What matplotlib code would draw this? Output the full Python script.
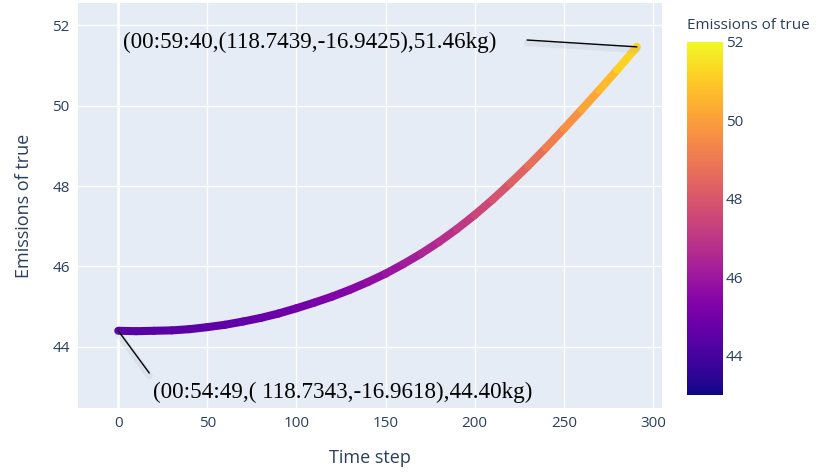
import numpy as np
import matplotlib.pyplot as plt
import matplotlib.patheffects as pe
from matplotlib.collections import LineCollection
from matplotlib.colors import Normalize

# emission readings along the route
time_step = [0, 10, 20, 30, 40, 50, 60, 70, 80, 90, 100, 110, 120, 130, 140,
             150, 160, 170, 180, 190, 200, 210, 220, 230, 240, 250, 260, 270,
             280, 291]
emissions = [44.40, 44.39, 44.40, 44.41, 44.44, 44.49, 44.55, 44.63, 44.72,
             44.83, 44.96, 45.10, 45.25, 45.42, 45.61, 45.82, 46.06, 46.32,
             46.61, 46.93, 47.28, 47.66, 48.07, 48.50, 48.95, 49.42, 49.90,
             50.39, 50.89, 51.46]

start_label = "(00:54:49,( 118.7343,-16.9618),44.40kg)"
end_label = "(00:59:40,(118.7439,-16.9425),51.46kg)"

cbar_ticks = [44, 46, 48, 50, 52]
cmin, cmax = 43, 52

text_color = "#2a3f5f"
plt.rcParams["font.family"] = ["Open Sans", "DejaVu Sans"]

fig = plt.figure(figsize=(8.2, 4.72), dpi=100)
ax = fig.add_axes([0.0951, 0.1356, 0.7122, 0.858])
ax.set_facecolor("#E5ECF6")
for s in ax.spines.values():
    s.set_visible(False)

ax.set_xlim(-22.6, 305.1)
ax.set_ylim(42.48, 52.55)
ax.set_xticks([0, 50, 100, 150, 200, 250, 300])
ax.set_yticks([44, 46, 48, 50, 52])
ax.grid(True, color="white", linewidth=1.0)
ax.set_axisbelow(True)
ax.axvline(0, color="white", linewidth=2.0, zorder=0.5)
ax.tick_params(length=0, labelsize=11, labelcolor=text_color, pad=6)

# thick colour-mapped track
norm = Normalize(cmin, cmax)
pts = np.column_stack([time_step, emissions]).reshape(-1, 1, 2)
segs = np.concatenate([pts[:-1], pts[1:]], axis=1)
mid = (np.array(emissions[:-1]) + np.array(emissions[1:])) / 2
lc = LineCollection(segs, cmap="plasma", norm=norm, linewidths=5.8,
                    capstyle="round", joinstyle="round", zorder=3)
lc.set_array(mid)
ax.add_collection(lc)

ax.set_xlabel("Time step", fontsize=13, color=text_color, labelpad=13)
ax.set_ylabel("Emissions of true", fontsize=13, color=text_color, labelpad=14)

# annotations for first and last readings
shadow = [pe.SimpleLineShadow(offset=(0, -2), shadow_color="#8a94a8", alpha=0.12,
                              linewidth=5), pe.Normal()]
ax.annotate("", xy=(time_step[-1], emissions[-1]), xytext=(229.4, 51.63),
            arrowprops=dict(arrowstyle="-", color="black", lw=1.0,
                            shrinkA=0, shrinkB=0, path_effects=shadow), zorder=4)
ax.text(2.8, 51.58, end_label, family="Liberation Serif", fontsize=16.6,
        ha="left", va="center", color="black", zorder=5)

ax.annotate("", xy=(time_step[0], emissions[0]), xytext=(17.4, 43.35),
            arrowprops=dict(arrowstyle="-", color="black", lw=1.0,
                            shrinkA=0, shrinkB=0, path_effects=shadow), zorder=4)
ax.text(19.6, 42.88, start_label, family="Liberation Serif", fontsize=16.6,
        ha="left", va="center", color="black", zorder=5)

# colour bar
cax = fig.add_axes([0.8378, 0.1631, 0.0439, 0.748])
sm = plt.cm.ScalarMappable(norm=norm, cmap="plasma")
cb = fig.colorbar(sm, cax=cax, ticks=cbar_ticks)
cb.outline.set_visible(False)
cax.tick_params(length=0, labelsize=11, labelcolor=text_color, pad=2)
fig.text(0.8378, 0.947, "Emissions of true", fontsize=11, color=text_color,
         ha="left", va="center")

fig.savefig("out.png", dpi=100)
